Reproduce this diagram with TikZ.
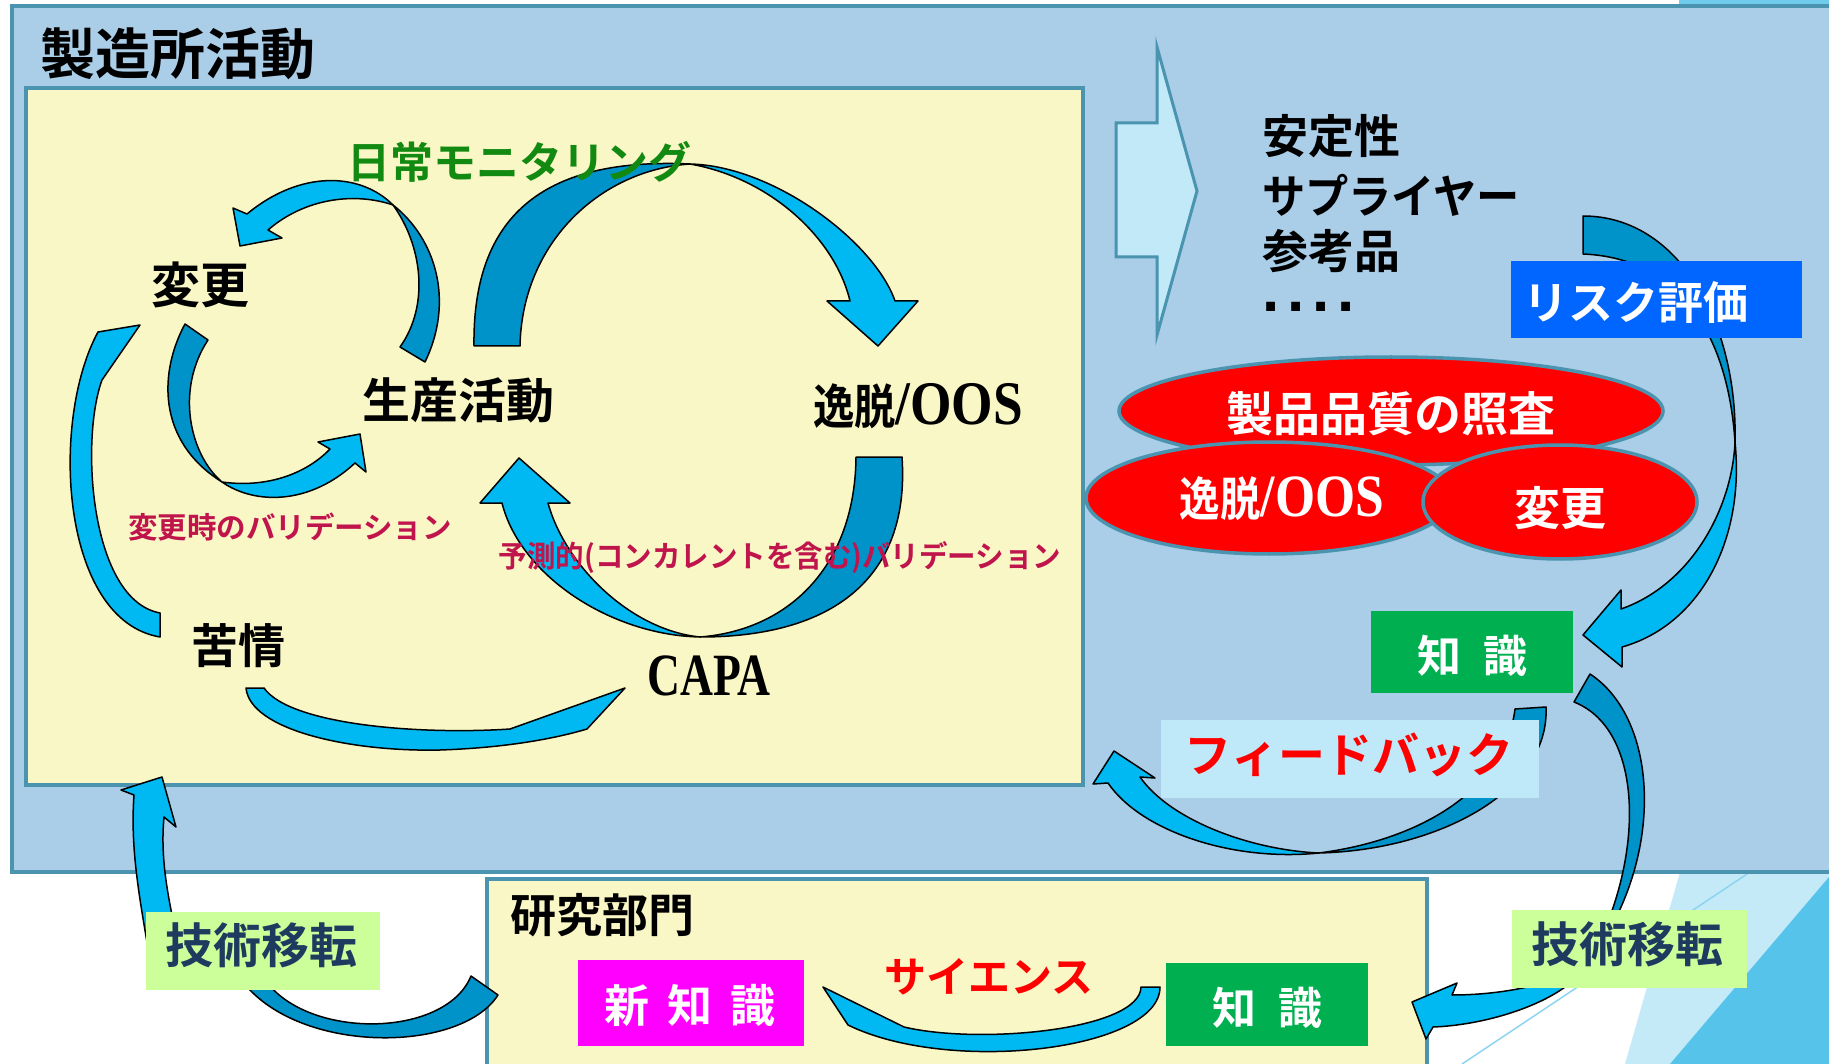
\documentclass[tikz,border=0pt]{standalone}
\usepackage{fontspec}
\usetikzlibrary{shapes.geometric}
\newfontfamily\jp{Noto Sans CJK JP}[BoldFont={Noto Sans CJK JP Bold}]
\newfontfamily\tms{Liberation Serif}
\newfontfamily\ars{Liberation Sans}
\newcommand{\fsz}[1]{\fontsize{#1}{#1}\selectfont}
\definecolor{outerblue}{HTML}{AACDE8}
\definecolor{bordert}{HTML}{4A94AF}
\definecolor{ylw}{HTML}{FAF7C6}
\definecolor{lcy}{HTML}{00B9F2}
\definecolor{dcy}{HTML}{0093C9}
\definecolor{grn}{HTML}{00AF50}
\definecolor{rblue}{HTML}{0066FF}
\definecolor{mag}{HTML}{FF00FF}
\definecolor{lgrn}{HTML}{CCFF99}
\definecolor{navy}{HTML}{1F3A5F}
\definecolor{fbk}{HTML}{BFE9F8}
\definecolor{crim}{HTML}{C0144C}
\definecolor{dgreen}{HTML}{128A12}
\definecolor{hollow}{HTML}{C2E9F8}
\definecolor{decolight}{HTML}{C4EAF8}
\definecolor{decodark}{HTML}{55C3EA}
\definecolor{decoline}{HTML}{8ED5F2}
\definecolor{decotop}{HTML}{70CCEA}
\tikzset{
  arrL/.style={fill=lcy, draw=black, line width=1.5pt, line join=round},
  arrD/.style={fill=dcy, draw=black, line width=1.5pt, line join=round},
  frame/.style={draw=bordert, line width=4pt},
  lbl/.style={inner sep=0pt, outer sep=0pt, font=\jp\bfseries},
  flatbox/.style={inner sep=0pt, outer sep=0pt, draw=none},
  ell/.style={ellipse, inner sep=0pt, fill=red, draw=bordert, line width=3.5pt},
}
\begin{document}
\begin{tikzpicture}[x=1pt,y=-1pt]
\useasboundingbox (0,0) rectangle (1829,1064);
\clip (0,0) rectangle (1829,1064);
\fill[white] (0,0) rectangle (1829,1064);
% theme decorations
\fill[decolight] (1680,872) -- (1829,872) -- (1829,1064) -- (1625,1064) -- cycle;
\fill[decodark] (1670,1064) -- (1829,877) -- (1829,1064) -- cycle;
\draw[decoline, line width=1.5pt] (1462,1064) -- (1750,872);
\fill[decotop] (1679,0) rectangle (1829,6);

% frames
\draw[frame, fill=outerblue] (12,6) rectangle (1860,872);
\draw[frame, fill=ylw] (26,88) rectangle (1083,785);
\draw[frame, fill=ylw] (487,879) rectangle (1427,1100);

\node[lbl, font=\jp\bfseries\fsz{55}] (title) at (178,54) {製造所活動};

% ---- arrows inside production box ----
% A: 生産活動 -> 変更
\draw[arrD] (393,205) .. controls (435,238) and (455,300) .. (425,362) -- (400,347) .. controls (430,305) and (422,245) .. (393,205) -- cycle;
\draw[arrL] (393,205) .. controls (360,172) and (300,170) .. (247,214) -- (233,208) -- (240,246) -- (282,238) -- (268,230) .. controls (305,198) and (355,192) .. (393,205) -- cycle;
% B: 変更 -> 生産活動
\draw[arrD] (185,324) .. controls (160,370) and (155,440) .. (222,482) .. controls (190,455) and (175,390) .. (208,340) -- cycle;
\draw[arrL] (222,482) .. controls (255,505) and (310,505) .. (355,463) -- (366,472) -- (360,434) -- (318,442) -- (330,449) .. controls (305,475) and (265,488) .. (222,482) -- cycle;
% C: 苦情 -> 変更
\draw[arrL] (160,637) .. controls (60,620) and (50,420) .. (98,332) -- (140,325) -- (102,380) .. controls (80,440) and (90,600) .. (160,613) -- cycle;
% D: 生産活動 -> 逸脱
\draw[arrD] (474,346) .. controls (472,202) and (560,158) .. (690,164) .. controls (600,170) and (522,243) .. (520,346) -- cycle;
\draw[arrL] (690,164) .. controls (775,166) and (875,243) .. (895,301) -- (918,301) -- (878,346) -- (827,301) -- (850,301) .. controls (835,238) and (770,178) .. (690,164) -- cycle;
% E: 逸脱 -> CAPA -> 生産活動
\draw[arrD] (856,457) -- (902,457) .. controls (910,572) and (840,637) .. (700,637) .. controls (790,630) and (855,565) .. (856,457) -- cycle;
\draw[arrL] (700,637) .. controls (610,635) and (520,575) .. (502,503) -- (480,503) -- (519,458) -- (570,503) -- (548,503) .. controls (565,565) and (630,630) .. (700,637) -- cycle;
% F: 苦情 -> CAPA
\draw[arrL] (246,688) .. controls (250,730) and (350,752) .. (440,750) .. controls (500,748) and (550,740) .. (587,729) -- (625,688) -- (510,729) .. controls (420,735) and (290,725) .. (264,688) -- cycle;

% labels inside production box
\node[lbl, font=\jp\bfseries\fsz{43}, text=dgreen] (mon) at (519,162) {日常モニタリング};
\node[lbl, font=\jp\bfseries\fsz{49}] (henko) at (200,285) {変更};
\node[lbl, font=\jp\bfseries\fsz{48}] (seisan) at (458,400) {生産活動};
\node[lbl] (itsu) at (918,406) {\scalebox{0.86}[1]{\fsz{48}逸脱\tms\bfseries\fsz{62}/OOS}};
\node[lbl, font=\jp\bfseries\fsz{29.5}, text=crim] (hval) at (290,527) {変更時のバリデーション};
\node[lbl, text=crim] (yval) at (780,557) {\scalebox{0.95}[1]{\fsz{30}予測的(コンカレントを含む)バリデーション}};
\node[lbl, font=\jp\bfseries\fsz{47}] (kujo) at (238,646) {苦情};
\node[lbl] (capa) at (709,676) {\scalebox{0.76}[1]{\tms\bfseries\fsz{60}CAPA}};

% hollow arrow
\draw[draw=bordert, line width=3pt, fill=hollow] (1116,123) -- (1157,123) -- (1157,47) -- (1197,191) -- (1157,335) -- (1157,257) -- (1116,257) -- cycle;

% list
\node[lbl, anchor=west, font=\jp\bfseries\fsz{46}] (l1) at (1262,136) {安定性};
\node[lbl, anchor=west, font=\jp\bfseries\fsz{46}] (l2) at (1262,195) {\scalebox{0.94}[1]{サプライヤー}};
\node[lbl, anchor=west, font=\jp\bfseries\fsz{46}] (l3) at (1262,251) {参考品};
\node[lbl, anchor=west, font=\ars\bfseries\fsz{62}] (l4) at (1262,307) {.\hspace{8pt}.\hspace{8pt}.\hspace{8pt}.};

% ellipses
\node[ell, minimum width=544, minimum height=108] (e1) at (1391,411) {};
\node[ell, minimum width=366, minimum height=112] (e2) at (1269,498) {};
\node[ell, minimum width=274, minimum height=114] (e3) at (1560,502) {};
\node[lbl, text=white, font=\jp\bfseries\fsz{47}] (t1) at (1391,414) {製品品質の照査};
\node[lbl, text=white] (t2) at (1282,499) {\scalebox{0.86}[1]{\fsz{47}逸脱\tms\bfseries\fsz{60}/OOS}};
\node[lbl, text=white, font=\jp\bfseries\fsz{46}] (t3) at (1560,508) {変更};

% G: リスク評価 -> 知識
\draw[arrD] (1583,216) .. controls (1680,216) and (1738,325) .. (1735,442) .. controls (1728,335) and (1680,258) .. (1583,254) -- cycle;
\draw[arrL] (1735,442) .. controls (1745,540) and (1700,625) .. (1622,647) -- (1622,667) -- (1583,635) -- (1621,590) -- (1621,609) .. controls (1690,585) and (1732,510) .. (1735,442) -- cycle;
\node[flatbox, fill=rblue, minimum width=291, minimum height=77] (risk) at (1656.5,299.5) {};
\node[lbl, text=white, font=\jp\bfseries\fsz{45}] (risktxt) at (1636,302) {リスク評価};

% I: feedback arrow
\draw[arrD] (1515,709) -- (1546,707) .. controls (1550,790) and (1440,850) .. (1319,853) .. controls (1420,840) and (1505,790) .. (1515,709) -- cycle;
\draw[arrL] (1319,853) .. controls (1230,862) and (1140,830) .. (1108,783) -- (1093,784) -- (1114,751) -- (1155,778) -- (1140,777) .. controls (1170,820) and (1250,850) .. (1319,853) -- cycle;
\node[flatbox, fill=fbk, minimum width=378, minimum height=78] (fb) at (1350,759) {};
\node[lbl, text=red, font=\jp\bfseries\fsz{47}] (fbtxt) at (1349,755) {フィードバック};

% H: 知識 -> 技術移転 -> 知識 (research)
\draw[arrD] (1574,702) -- (1590,674) .. controls (1660,720) and (1665,860) .. (1590,960) .. controls (1645,860) and (1645,730) .. (1574,702) -- cycle;
\draw[arrL] (1590,960) .. controls (1570,1000) and (1490,1025) .. (1433,1027) -- (1426,1039) -- (1412,1002) -- (1457,983) -- (1452,995) .. controls (1500,995) and (1560,985) .. (1590,960) -- cycle;

\node[flatbox, fill=grn, minimum width=202, minimum height=82] (kr) at (1472,652) {};
\node[lbl, text=white, font=\jp\bfseries\fsz{44}] (krtxt) at (1472,656) {知\hspace{0.5em}識};

% J: 新知識 -> 技術移転 -> production
\draw[arrD] (498,995) .. controls (460,1055) and (290,1055) .. (238,975) -- (262,975) .. controls (300,1040) and (445,1040) .. (471,976) -- cycle;
\draw[arrL] (150,960) .. controls (140,900) and (130,850) .. (134,795) -- (121,790) -- (162,777) -- (176,827) -- (164,817) .. controls (160,860) and (168,900) .. (182,960) -- cycle;

% 技術移転 boxes
\node[flatbox, fill=lgrn, minimum width=234, minimum height=78] (tl) at (263,951) {};
\node[lbl, text=navy, font=\jp\bfseries\fsz{48}] (tltxt) at (261,945) {技術移転};
\node[flatbox, fill=lgrn, minimum width=235, minimum height=78] (tr) at (1629.5,949) {};
\node[lbl, text=navy, font=\jp\bfseries\fsz{48}] (trtxt) at (1627,944) {技術移転};

% research content
\node[lbl, font=\jp\bfseries\fsz{46}] (kenkyu) at (602,915) {研究部門};
\node[flatbox, fill=mag, minimum width=226, minimum height=86] (nk) at (691,1003) {};
\node[lbl, text=white, font=\jp\bfseries\fsz{45}] (nktxt) at (690,1005) {新\hspace{0.4em}知\hspace{0.4em}識};
\node[flatbox, fill=grn, minimum width=202, minimum height=83] (kb) at (1267,1004.5) {};
\node[lbl, text=white, font=\jp\bfseries\fsz{44}] (kbtxt) at (1267,1008) {知\hspace{0.5em}識};
% K: science arrow
\draw[arrL] (1160,987) .. controls (1160,1050) and (950,1075) .. (848,1025) -- (823,987) -- (904,1027) .. controls (980,1045) and (1140,1030) .. (1141,987) -- cycle;
\node[lbl, text=red, font=\jp\bfseries\fsz{42}] (sci) at (989,977) {サイエンス};
\end{tikzpicture}
\end{document}
